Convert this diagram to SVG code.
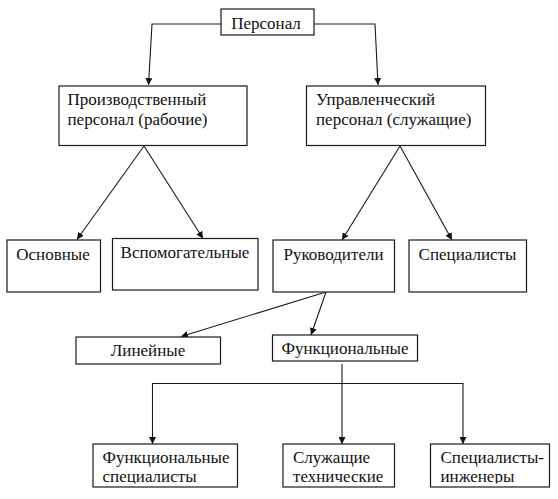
<svg xmlns="http://www.w3.org/2000/svg" width="558" height="499" viewBox="0 0 558 499">
<style>
.box{fill:#fff;stroke:#1a1a1a;stroke-width:1.2}
text{font-family:'Liberation Serif','Times New Roman',serif;font-size:17px;fill:#111}
.c{text-anchor:middle}
.ln{fill:none;stroke:#1a1a1a;stroke-width:1.1}
</style>
<defs>
<marker id="ah" markerUnits="userSpaceOnUse" markerWidth="8" markerHeight="7" refX="7" refY="3.5" orient="auto">
<path d="M0,0 L7,3.5 L0,7 z" fill="#111"/>
</marker>
<clipPath id="clipB"><rect x="0" y="444" width="558" height="39.5"/></clipPath>
</defs>
<rect width="558" height="499" fill="#fff"/>
<g id="connectors">
<path class="ln" marker-end="url(#ah)" d="M221,24 H152 L148.5,85"/>
<path class="ln" marker-end="url(#ah)" d="M314,24 H375 L378,85"/>
<path class="ln" marker-end="url(#ah)" d="M144,146 L77,239.5"/>
<path class="ln" marker-end="url(#ah)" d="M144,146 L203,238.5"/>
<path class="ln" marker-end="url(#ah)" d="M400,146 L342,240"/>
<path class="ln" marker-end="url(#ah)" d="M400,146 L452,240"/>
<path class="ln" marker-end="url(#ah)" d="M326,292 L181,336.5"/>
<path class="ln" marker-end="url(#ah)" d="M326,292 L311,335"/>
<path class="ln" marker-end="url(#ah)" d="M342,364 V444"/>
<path class="ln" marker-end="url(#ah)" d="M342,383.5 H152.5 V444"/>
<path class="ln" marker-end="url(#ah)" d="M342,383.5 H463 V444"/>
</g>
<g id="personal">
<rect class="box" x="221" y="9" width="93" height="26"/>
<text class="c" x="266" y="29">Персонал</text>
</g>
<g id="production">
<rect class="box" x="59" y="86" width="188" height="59.5"/>
<text x="67.5" y="105">Производственный</text>
<text x="67.5" y="124.5">персонал (рабочие)</text>
</g>
<g id="management">
<rect class="box" x="306.5" y="86" width="179" height="59.5"/>
<text x="316" y="105">Управленческий</text>
<text x="316" y="124.5">персонал (служащие)</text>
</g>
<g id="osnovnye">
<rect class="box" x="7" y="240" width="93.5" height="52"/>
<text class="c" x="53" y="260">Основные</text>
</g>
<g id="vspomogatelnye">
<rect class="box" x="112.5" y="238.5" width="145.5" height="51.5"/>
<text class="c" x="185" y="257.5">Вспомогательные</text>
</g>
<g id="rukovoditeli">
<rect class="box" x="273" y="240" width="121.5" height="52"/>
<text class="c" x="333.5" y="260">Руководители</text>
</g>
<g id="specialisty">
<rect class="box" x="409" y="240" width="117.5" height="52"/>
<text class="c" x="467.5" y="260">Специалисты</text>
</g>
<g id="lineynye">
<rect class="box" x="76" y="337" width="144.5" height="27"/>
<text class="c" x="148" y="356">Линейные</text>
</g>
<g id="funkcionalnye">
<rect class="box" x="272.5" y="335" width="145" height="26"/>
<text class="c" x="345" y="353.5">Функциональные</text>
</g>
<g id="func-spec">
<rect class="box" x="93" y="444" width="144.5" height="43"/>
<g clip-path="url(#clipB)">
<text x="102.5" y="462.5">Функциональные</text>
<text x="102.5" y="481.5">специалисты</text>
</g>
</g>
<g id="sluzhashchie">
<rect class="box" x="283" y="444" width="111.5" height="43"/>
<g clip-path="url(#clipB)">
<text x="293" y="462.5">Служащие</text>
<text x="293" y="481.5">технические</text>
</g>
</g>
<g id="spec-ing">
<rect class="box" x="430.5" y="444" width="119" height="43"/>
<g clip-path="url(#clipB)">
<text x="440.5" y="462.5">Специалисты-</text>
<text x="440.5" y="481.5">инженеры</text>
</g>
</g>
</svg>
